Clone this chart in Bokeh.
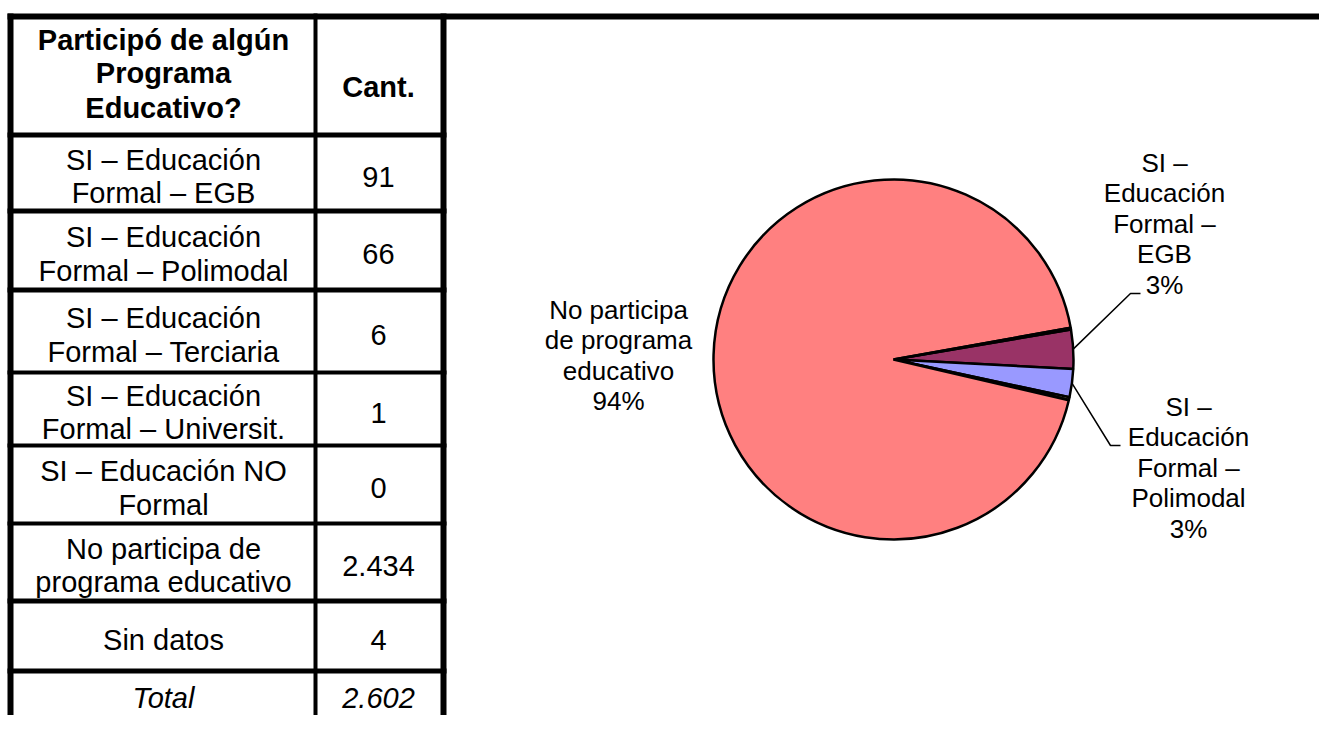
import math
from bokeh.plotting import figure
from bokeh.models import Range1d, ColumnDataSource
from bokeh.core.properties import value
from bokeh.embed import file_html
from bokeh.resources import INLINE

# ---------------- data ----------------
header_label = ["Participó de algún", "Programa", "Educativo?"]
header_count = "Cant."
categories = [
    "SI – Educación\nFormal – EGB",
    "SI – Educación\nFormal – Polimodal",
    "SI – Educación\nFormal – Terciaria",
    "SI – Educación\nFormal – Universit.",
    "SI – Educación NO\nFormal",
    "No participa de\nprograma educativo",
    "Sin datos",
]
counts = [91, 66, 6, 1, 0, 2434, 4]
total_label = "Total"
pie_names = [
    "SI –\nEducación\nFormal –\nEGB",
    "SI –\nEducación\nFormal –\nPolimodal",
    "SI –\nEducación\nFormal –\nTerciaria",
    "SI –\nEducación\nFormal –\nUniversit.",
    "SI –\nEducación\nNO Formal",
    "No participa\nde programa\neducativo",
    "Sin datos",
]
slice_colors = ["#993366", "#9999FF", "#FFFFCC", "#CCFFFF", "#660066", "#FF8080", "#0066CC"]

def fmt(n):
    return f"{n:,}".replace(",", ".")

total = sum(counts)

# ---------------- layout ----------------
W, H = 1319, 715
def Y(s):  # picture y -> data y
    return H - s

FONT = "Liberation Sans"
TFS = "29px"
PFS = "26px"
T_LH = 33.5
P_LH = 30.5

p = figure(width=W, height=H, x_range=Range1d(0, W), y_range=Range1d(0, H),
           x_axis_type=None, y_axis_type=None, toolbar_location=None,
           output_backend="svg", min_border=0)
p.grid.visible = False
p.outline_line_color = None
p.background_fill_color = "white"
p.border_fill_color = "white"

# ---------------- table lines ----------------
hlines = [(132, 137), (208, 213), (287, 292), (370, 374), (443, 447), (521, 525), (598, 603), (668, 673)]
L, R_, T, B = [], [], [], []
L.append(7); R_.append(1340); T.append(Y(13)); B.append(Y(19))
for (a, b) in [(7, 13), (313, 317), (440, 446)]:
    L.append(a); R_.append(b); T.append(Y(13)); B.append(Y(740))
for (a, b) in hlines:
    L.append(7); R_.append(446); T.append(Y(a)); B.append(Y(b))
p.quad(left=L, right=R_, top=T, bottom=B, color="black", line_width=0)

COL1 = 163
COL2 = 378

tx, ty, tt = [], [], []
hdr_centers = [39.7, 72.5, 107.5]
for s, c in zip(header_label, hdr_centers):
    tx.append(COL1); ty.append(Y(c)); tt.append(s)
tx.append(COL2); ty.append(Y(86)); tt.append(header_count)
p.text(x=tx, y=ty, text=tt, text_font=value(FONT), text_font_size=TFS,
       text_font_style="bold", text_align="center", text_baseline="middle", text_color="black")

bx, by, bt = [], [], []
for i, (cat, n) in enumerate(zip(categories, counts)):
    top = hlines[i][1]
    bot = hlines[i + 1][0]
    c = (top + bot) / 2 + 3.5
    lines = cat.split("\n")
    k = len(lines)
    for j, s in enumerate(lines):
        bx.append(COL1); by.append(Y(c + (j - (k - 1) / 2) * T_LH)); bt.append(s)
    bx.append(COL2); by.append(Y(c)); bt.append(fmt(n))
p.text(x=bx, y=by, text=bt, text_font=value(FONT), text_font_size=TFS,
       text_align="center", text_baseline="middle", text_color="black")

p.text(x=[COL1, COL2], y=[Y(697), Y(697)], text=[total_label, fmt(total)],
       text_font=value(FONT), text_font_size=TFS, text_font_style="italic",
       text_align="center", text_baseline="middle", text_color="black")

# ---------------- pie ----------------
CX, CY, RAD = 893, 359, 180
A0 = math.radians(9.6)
starts, ends = [], []
ws, we, wc = [], [], []
cum = 0
for n, col in zip(counts, slice_colors):
    a_s = A0 - cum / total * 2 * math.pi
    cum += n
    a_e = A0 - cum / total * 2 * math.pi
    starts.append(a_s); ends.append(a_e)
    if n > 0:
        ws.append(a_s); we.append(a_e); wc.append(col)
src = ColumnDataSource(dict(start=ws, end=we, color=wc))
p.wedge(x=CX, y=Y(CY), radius=RAD, start_angle="start", end_angle="end",
        direction="clock", fill_color="color", line_color="black", line_width=2.5, source=src)

label_pos = {0: (1164, 162), 1: (1188, 406), 5: (618, 309)}
leaders = {0: [(1130, 293), (1140, 293)], 1: [(1110, 445), (1120, 445)]}

px, py, pt = [], [], []
for i, (lx, ly) in label_pos.items():
    pct = round(counts[i] / total * 100)
    lines = pie_names[i].split("\n") + [f"{pct}%"]
    for j, s in enumerate(lines):
        px.append(lx); py.append(Y(ly + j * P_LH)); pt.append(s)
p.text(x=px, y=py, text=pt, text_font=value(FONT), text_font_size=PFS,
       text_align="center", text_baseline="middle", text_color="black")

xs, ys = [], []
for i, pts in leaders.items():
    mid = (starts[i] + ends[i]) / 2
    sx = CX + RAD * math.cos(mid)
    sy = CY - RAD * math.sin(mid)
    xs.append([sx] + [q[0] for q in pts])
    ys.append([Y(sy)] + [Y(q[1]) for q in pts])
p.multi_line(xs=xs, ys=ys, line_color="black", line_width=1.5)

open("out.html", "w").write(file_html(p, INLINE))
